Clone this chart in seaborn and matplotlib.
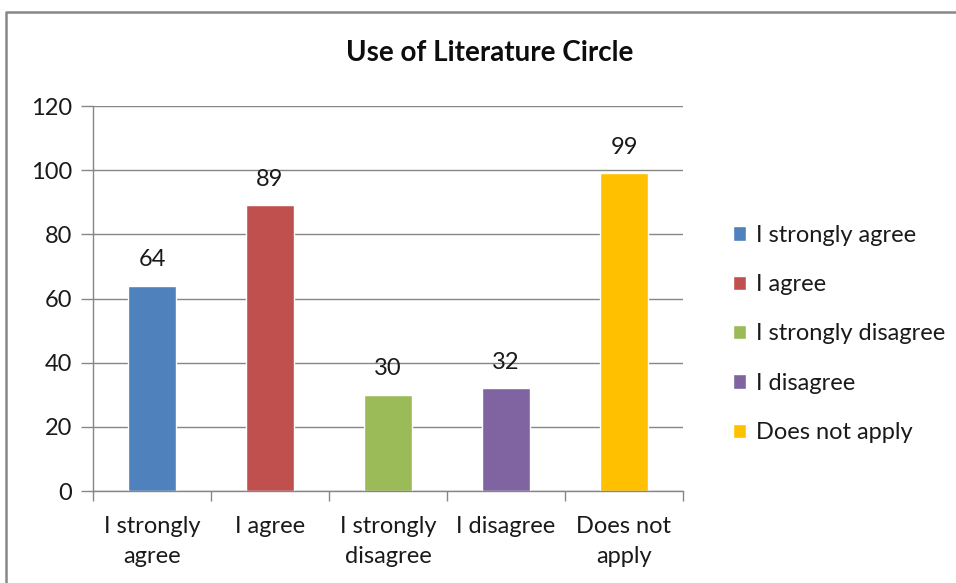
import matplotlib
matplotlib.use("Agg")
import matplotlib.pyplot as plt
import matplotlib.patches as mpatches
from matplotlib.lines import Line2D
import seaborn as sns
import pandas as pd

# data
categories = ["I strongly agree", "I agree", "I strongly disagree", "I disagree", "Does not apply"]
tick_labels = ["I strongly\nagree", "I agree", "I strongly\ndisagree", "I disagree", "Does not\napply"]
counts = [64, 89, 30, 32, 99]
colors = ["#4F81BD", "#C0504D", "#9BBB59", "#8064A2", "#FFC000"]
title = "Use of Literature Circle"

sns.set_style("white")
plt.rcParams["font.family"] = ["Lato", "DejaVu Sans"]

df = pd.DataFrame({"category": categories, "count": counts})

fig = plt.figure(figsize=(9.56, 5.83), dpi=100)
ax = fig.add_axes([93 / 956, 1 - 491 / 583, (683 - 93) / 956, (491 - 106) / 583])

sns.barplot(data=df, x="category", y="count", hue="category", palette=colors,
            width=0.41, saturation=1, legend=False, ax=ax)

grid_c = "#868686"
txt_c = "#1a1a1a"
ax.set_ylim(0, 120)
ax.set_xlim(-0.5, len(categories) - 0.5)
ax.set_yticks(range(0, 121, 20))
ax.yaxis.grid(True, color=grid_c, linewidth=1)
ax.set_axisbelow(True)
ax.set_xlabel("")
ax.set_ylabel("")
ax.set_xticks(range(len(categories)))
ax.set_xticklabels(tick_labels, fontsize=17, color=txt_c, linespacing=1.55)
ax.tick_params(axis="x", length=0, pad=18)
ax.tick_params(axis="y", labelsize=17, colors=txt_c, length=9, width=1,
               color=grid_c, direction="out", left=True, pad=6)

# category boundary ticks
ax.set_xticks([i - 0.5 for i in range(len(categories) + 1)], minor=True)
ax.tick_params(axis="x", which="minor", length=7, width=1, color=grid_c, bottom=True)

for s in ["top", "right"]:
    ax.spines[s].set_visible(False)
for s in ["left", "bottom"]:
    ax.spines[s].set_color(grid_c)
    ax.spines[s].set_linewidth(1)

for i, v in enumerate(counts):
    ax.annotate(str(v), (i, v), xytext=(0, 11), textcoords="offset points",
                ha="center", va="bottom", fontsize=17, color=txt_c)

fig.text(490 / 956, 1 - 53 / 583, title, ha="center", va="center",
         fontsize=20, fontweight="bold", color="#0d0d0d")

handles = [mpatches.Patch(facecolor=c, label=l) for c, l in zip(colors, categories)]
fig.legend(handles=handles, loc="center left", bbox_to_anchor=(712 / 956, 1 - 334 / 583),
           frameon=False, fontsize=17, handlelength=0.55, handleheight=0.55,
           handletextpad=0.4, labelspacing=1.2, labelcolor=txt_c)

# outer border (top and left edge visible)
fig.add_artist(Line2D([6 / 956, 6 / 956, 1], [0, 1 - 12 / 583, 1 - 12 / 583],
                      transform=fig.transFigure, color="#888888", linewidth=1.8))

fig.savefig("out.png", dpi=100)
